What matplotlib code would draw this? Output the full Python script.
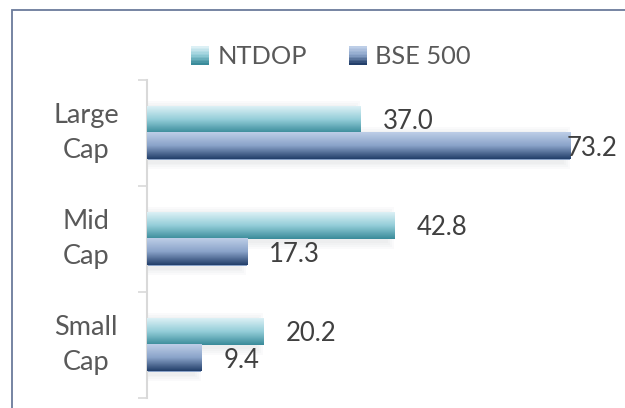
import numpy as np
import matplotlib
matplotlib.use("Agg")
import matplotlib.pyplot as plt
from matplotlib.colors import LinearSegmentedColormap
from matplotlib.patches import Rectangle
from matplotlib.legend_handler import HandlerBase

plt.rcParams['font.family'] = ['Lato', 'DejaVu Sans']

categories = ['Large\nCap', 'Mid\nCap', 'Small\nCap']
series_names = ['NTDOP', 'BSE 500']
ntdop = [37.0, 42.8, 20.2]
bse500 = [73.2, 17.3, 9.4]

# gradient colours, top -> bottom of each bar
ntdop_cmap = LinearSegmentedColormap.from_list('ntdop', ['#dcf0f5', '#93cdd8', '#3a8b9a'])
bse_cmap = LinearSegmentedColormap.from_list('bse', ['#bdcee7', '#8aa3c9', '#233f6a'])
cmaps = [ntdop_cmap, bse_cmap]


class GradientHandler(HandlerBase):
    def __init__(self, cmap):
        super().__init__()
        self.cmap = cmap

    def create_artists(self, legend, orig_handle, xdescent, ydescent,
                       width, height, fontsize, trans):
        n = 12
        side = min(width, height)
        x0 = -xdescent + (width - side) / 2
        y0 = -ydescent + (height - side) / 2
        arts = []
        for i in range(n):
            r = Rectangle((x0, y0 + side * (n - 1 - i) / n), side, side / n + 0.3,
                          facecolor=self.cmap(i / (n - 1)), edgecolor='none',
                          transform=trans)
            arts.append(r)
        return arts


fig = plt.figure(figsize=(6.25, 4.08), dpi=100)
ax = fig.add_axes([147 / 625, 10 / 408, (617 - 147) / 625, 318 / 408])

y = np.arange(len(categories))
h = 0.25
xmax = 81.3

grad = np.linspace(0, 1, 64).reshape(-1, 1)
all_bars = []
for k, vals in enumerate([ntdop, bse500]):
    pos = y - h / 2 + k * h
    bars = ax.barh(pos, vals, height=h, color=cmaps[k](0.5), zorder=2, label=series_names[k])
    all_bars.append(bars)
    for b in bars:
        x0, y0 = b.get_x(), b.get_y()
        w, hh = b.get_width(), b.get_height()
        # soft shadow
        for s in range(1, 5):
            dx = s * 0.35
            dy = s * 0.018
            ax.add_patch(Rectangle((x0, y0 - dy + 0.02), w + dx - 1.5, hh + 2 * dy,
                                   facecolor='#9aa0a8', edgecolor='none', alpha=0.045, zorder=1))
        ax.imshow(grad, extent=(x0, x0 + w, y0 + hh, y0), cmap=cmaps[k],
                  aspect='auto', interpolation='bilinear', zorder=3)

ax.set_xlim(0, xmax)
ax.set_ylim(len(categories) - 0.5, -0.5)

# data labels
for k, vals in enumerate([ntdop, bse500]):
    pos = y - h / 2 + k * h
    for v, p in zip(vals, pos):
        if v > 0.85 * xmax:
            ax.text(xmax, p + 0.02, f'{v:.1f}', ha='right', va='center',
                    fontsize=18.5, color='#404040', zorder=5)
        else:
            ax.annotate(f'{v:.1f}', xy=(v, p + 0.02), xytext=(16, 0), textcoords='offset points',
                        ha='left', va='center', fontsize=18.5, color='#404040', zorder=5)

# axes styling
for side in ['top', 'right', 'bottom']:
    ax.spines[side].set_visible(False)
ax.spines['left'].set_color('#d9d9d9')
ax.spines['left'].set_linewidth(1.5)
ax.set_xticks([])
ax.set_yticks(np.arange(-0.5, len(categories), 1.0))
ax.set_yticklabels([])
ax.tick_params(axis='y', which='major', length=6.5, width=1.2, color='#d9d9d9')
ax.set_yticks(y, minor=True)
ax.set_yticklabels(categories, minor=True, fontsize=19.5, color='#595959',
                   ha='center', va='center', linespacing=1.5)
ax.tick_params(axis='y', which='minor', length=0, pad=44)
ax.patch.set_alpha(0)

# legend
fig.legend(handles=[all_bars[0], all_bars[1]], labels=series_names,
           handler_map={all_bars[0]: GradientHandler(ntdop_cmap), all_bars[1]: GradientHandler(bse_cmap)},
           loc='center', bbox_to_anchor=(331 / 625, 1 - 57 / 408), ncol=2, frameon=False,
           fontsize=18.3, labelcolor='#595959', handlelength=0.7, handleheight=0.7,
           handletextpad=0.33, columnspacing=1.65, borderpad=0)

# chart border
fig.patches.append(Rectangle((12 / 625, -0.1), 1.0, 1.1 - 10 / 408, transform=fig.transFigure,
                             fill=False, edgecolor='#6b7b9b', linewidth=1.3))

fig.savefig('out.png', dpi=100)
